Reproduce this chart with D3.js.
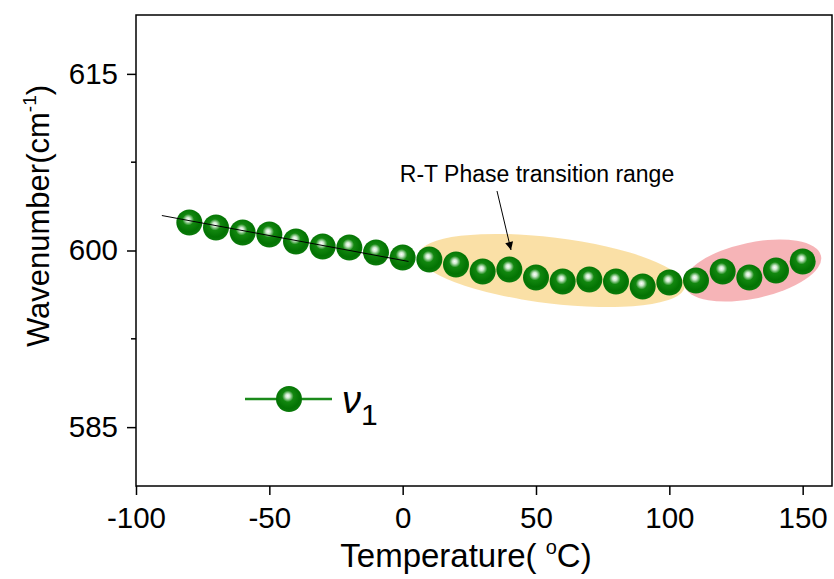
<!DOCTYPE html>
<html>
<head>
<meta charset="utf-8">
<script src="https://cdn.jsdelivr.net/npm/d3@7"></script>
<style>
  html, body { margin: 0; padding: 0; background: #fff; }
  svg { display: block; font-family: "Liberation Sans", Arial, sans-serif; }
</style>
</head>
<body>
<svg id="chart" width="834" height="579"></svg>
<script>
// ---- data ----
const temperatures = [-80, -70, -60, -50, -40, -30, -20, -10, 0, 10, 20, 30, 40, 50, 60, 70, 80, 90, 100, 110, 120, 130, 140, 150];
const wavenumbers  = [602.38, 601.95, 601.53, 601.36, 600.76, 600.34, 600.25, 599.83, 599.41, 599.24, 598.81, 598.22, 598.39, 597.71, 597.37, 597.54, 597.37, 596.94, 597.28, 597.45, 598.22, 597.71, 598.30, 599.07];
const fitLineX = [-90.3, 2.2];
const fitLineY = [602.97, 599.07];
const xTicks = [-100, -50, 0, 50, 100, 150];
const yTicks = [585, 600, 615];
const yMinorTicks = [592.5, 607.5];
const seriesName = "ν";
const seriesSub = "1";
const annotationText = "R-T Phase transition range";

// ---- layout ----
const W = 834, H = 579;
const margin = { left: 136, right: 2, top: 15, bottom: 93 };
const svg = d3.select("#chart");
const x = d3.scaleLinear().domain([-100, 161]).range([margin.left, W - margin.right]);
const y = d3.scaleLinear().domain([580, 620]).range([H - margin.bottom, margin.top]);

// defs: ball gradient + arrow
const defs = svg.append("defs");
const grad = defs.append("radialGradient").attr("id", "ball")
  .attr("cx", "47%").attr("cy", "42%").attr("r", "58%").attr("fx", "45%").attr("fy", "38%");
grad.append("stop").attr("offset", "0%").attr("stop-color", "#ffffff");
grad.append("stop").attr("offset", "14%").attr("stop-color", "#cfeacf");
grad.append("stop").attr("offset", "38%").attr("stop-color", "#12870f");
grad.append("stop").attr("offset", "78%").attr("stop-color", "#037303");
grad.append("stop").attr("offset", "100%").attr("stop-color", "#0b7a0b");
defs.append("marker").attr("id", "arrow").attr("viewBox", "0 0 10 10")
  .attr("refX", 10).attr("refY", 5).attr("markerWidth", 13).attr("markerHeight", 8)
  .attr("markerUnits", "userSpaceOnUse").attr("orient", "auto")
  .append("path").attr("d", "M0,0 L10,5 L0,10 z").attr("fill", "#000");

// highlight ellipses (annotation)
function ellipse(cxVal, cyVal, rx, ry, angle, fill, op) {
  svg.append("ellipse")
    .attr("transform", `translate(${x(cxVal)},${y(cyVal)}) rotate(${angle})`)
    .attr("rx", rx).attr("ry", ry)
    .attr("fill", fill).attr("fill-opacity", op);
}
ellipse(55.9, 598.3, 134, 33, 7, "#f9db96", 0.85);
ellipse(131.2, 598.3, 70, 28, -12, "#f5a7aa", 0.85);

// data points
svg.append("g").selectAll("circle")
  .data(temperatures.map((t, i) => [t, wavenumbers[i]]))
  .join("circle")
  .attr("cx", d => x(d[0])).attr("cy", d => y(d[1]))
  .attr("r", 13).attr("fill", "url(#ball)");

// linear fit line
svg.append("line")
  .attr("x1", x(fitLineX[0])).attr("y1", y(fitLineY[0]))
  .attr("x2", x(fitLineX[1])).attr("y2", y(fitLineY[1]))
  .attr("stroke", "#000").attr("stroke-width", 1);

// annotation
svg.append("text").attr("x", 537).attr("y", 182).attr("text-anchor", "middle")
  .attr("font-size", 23).text(annotationText);
svg.append("line").attr("x1", 497).attr("y1", 191).attr("x2", 511).attr("y2", 250)
  .attr("stroke", "#000").attr("stroke-width", 1).attr("marker-end", "url(#arrow)");

// frame
svg.append("rect").attr("x", margin.left).attr("y", margin.top)
  .attr("width", W - margin.right - margin.left).attr("height", H - margin.bottom - margin.top)
  .attr("fill", "none").attr("stroke", "#000").attr("stroke-width", 1.5);

// axes
const fmt = d => String(d);
const xAxis = svg.append("g").attr("transform", `translate(0,${H - margin.bottom})`)
  .call(d3.axisBottom(x).tickValues(xTicks).tickSize(9).tickPadding(12).tickFormat(fmt));
const yAxis = svg.append("g").attr("transform", `translate(${margin.left},0)`)
  .call(d3.axisLeft(y).tickValues(yTicks).tickSize(9).tickPadding(9).tickFormat(fmt));
svg.append("g").attr("transform", `translate(${margin.left},0)`)
  .selectAll("line").data(yMinorTicks).join("line")
  .attr("x1", -5).attr("x2", 0).attr("y1", d => y(d)).attr("y2", d => y(d))
  .attr("stroke", "#000").attr("stroke-width", 1.5);
[xAxis, yAxis].forEach(a => {
  a.select(".domain").remove();
  a.selectAll(".tick line").attr("stroke", "#000").attr("stroke-width", 1.5);
  a.selectAll(".tick text").attr("font-size", 29.5).attr("fill", "#000")
    .attr("font-family", "'Liberation Sans', Arial, sans-serif");
});

// axis titles
const xt = svg.append("text").attr("x", 466).attr("y", 567).attr("text-anchor", "middle")
  .attr("font-size", 33);
xt.append("tspan").text("Temperature( ");
xt.append("tspan").attr("font-size", 20).attr("dy", -13).text("o");
xt.append("tspan").attr("dy", 13).text("C)");

const yt = svg.append("text").attr("transform", "translate(49,216) rotate(-90)")
  .attr("text-anchor", "middle").attr("font-size", 31);
yt.append("tspan").text("Wavenumber(cm");
yt.append("tspan").attr("font-size", 19).attr("dy", -13).text("-1");
yt.append("tspan").attr("dy", 13).text(")");

// legend
const lg = svg.append("g");
lg.append("line").attr("x1", 245).attr("x2", 332).attr("y1", 399).attr("y2", 399)
  .attr("stroke", "#1b8a1b").attr("stroke-width", 2.5);
lg.append("circle").attr("cx", 289).attr("cy", 399).attr("r", 13).attr("fill", "url(#ball)");
const lt = lg.append("text").attr("x", 342).attr("y", 413).attr("font-size", 38);
lt.append("tspan").attr("font-style", "italic").text(seriesName);
lt.append("tspan").attr("font-size", 30).attr("dy", 12).text(seriesSub);
</script>
</body>
</html>
